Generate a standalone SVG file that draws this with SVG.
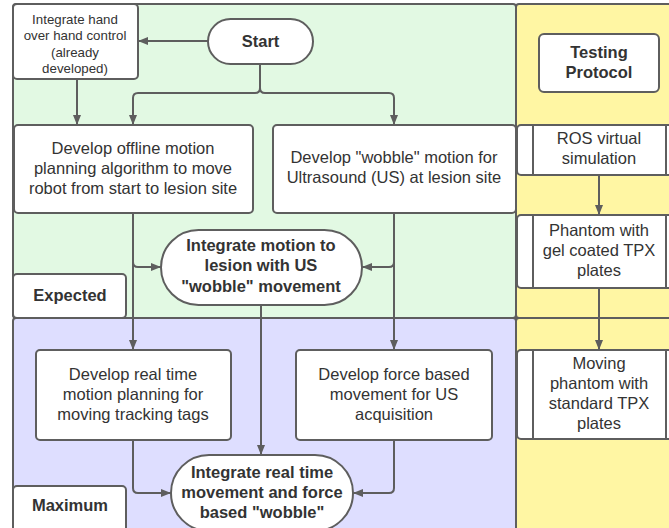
<svg xmlns="http://www.w3.org/2000/svg" width="669" height="528" viewBox="0 0 669 528">
<style>
.lane{stroke:#5e5e5e;stroke-width:2}
.box{fill:#fff;stroke:#5e5e5e;stroke-width:2}
.t{font-family:"Liberation Sans",Arial,sans-serif;font-size:16.5px;fill:#333;text-anchor:middle}
.s{font-size:13.3px}
.b{font-weight:bold}
.c{fill:none;stroke:#5e5e5e;stroke-width:2}
</style>
<defs>
<marker id="ah" viewBox="0 0 10 10" refX="10" refY="5" markerWidth="10" markerHeight="10" markerUnits="userSpaceOnUse" orient="auto">
<path d="M0,1 L10,5 L0,9 Z" fill="#5e5e5e"/>
</marker>
</defs>
<g id="lanes">
<rect class="lane" x="13" y="4" width="503" height="314" rx="3" fill="#e2f9e3"/>
<rect class="lane" x="13" y="318" width="503" height="222" rx="3" fill="#dedeff"/>
<rect class="lane" x="516" y="4" width="164" height="314" rx="3" fill="#fff6a3"/>
<rect class="lane" x="516" y="318" width="164" height="222" rx="3" fill="#fff6a3"/>
</g>
<g id="label-expected">
<rect class="box" x="13" y="274" width="113" height="44" rx="4"/>
<text class="t b" x="70" y="301">Expected</text>
</g>
<g id="label-maximum">
<rect class="box" x="13" y="486" width="113" height="54" rx="4"/>
<text class="t b" x="70" y="511">Maximum</text>
</g>
<g id="connectors">
<path class="c" d="M208,41 H138" marker-end="url(#ah)"/>
<path class="c" d="M260,64 V88 Q260,93 255,93 H138 Q133,93 133,98 V125" marker-end="url(#ah)"/>
<path class="c" d="M260,88 Q260,93 265,93 H389 Q394,93 394,98 V125" marker-end="url(#ah)"/>
<path class="c" d="M77,79 V125" marker-end="url(#ah)"/>
<path class="c" d="M133,213 V350" marker-end="url(#ah)"/>
<path class="c" d="M133,262 Q133,267 138,267 H161" marker-end="url(#ah)"/>
<path class="c" d="M394,213 V350" marker-end="url(#ah)"/>
<path class="c" d="M394,262 Q394,267 389,267 H362" marker-end="url(#ah)"/>
<path class="c" d="M261,305 V455" marker-end="url(#ah)"/>
<path class="c" d="M133,440 V488 Q133,493 138,493 H171" marker-end="url(#ah)"/>
<path class="c" d="M394,440 V488 Q394,493 389,493 H353" marker-end="url(#ah)"/>
<path class="c" d="M599,175 V215" marker-end="url(#ah)"/>
<path class="c" d="M599,288 V350" marker-end="url(#ah)"/>
</g>
<g id="handover">
<rect class="box" x="13" y="4" width="125" height="75" rx="4"/>
<text class="t s" x="75" y="24">Integrate hand</text>
<text class="t s" x="75" y="40">over hand control</text>
<text class="t s" x="75" y="57">(already</text>
<text class="t s" x="75" y="73">developed)</text>
</g>
<g id="start">
<rect class="box" x="208" y="19" width="105" height="45" rx="22.5"/>
<text class="t b" x="260.5" y="47">Start</text>
</g>
<g id="offline">
<rect class="box" x="14" y="125" width="239" height="88" rx="4"/>
<text class="t" x="133" y="154">Develop offline motion</text>
<text class="t" x="133" y="174">planning algorithm to move</text>
<text class="t" x="133" y="194">robot from start to lesion site</text>
</g>
<g id="wobble">
<rect class="box" x="273" y="125" width="243" height="88" rx="4"/>
<text class="t" x="394" y="163">Develop "wobble" motion for</text>
<text class="t" x="394" y="183">Ultrasound (US) at lesion site</text>
</g>
<g id="integrate-motion">
<rect class="box" x="161" y="230" width="201" height="75" rx="37.5"/>
<text class="t b" x="261" y="251">Integrate motion to</text>
<text class="t b" x="261" y="271">lesion with US</text>
<text class="t b" x="261" y="292">"wobble" movement</text>
</g>
<g id="realtime">
<rect class="box" x="36" y="350" width="195" height="90" rx="4"/>
<text class="t" x="133" y="380">Develop real time</text>
<text class="t" x="133" y="400">motion planning for</text>
<text class="t" x="133" y="420">moving tracking tags</text>
</g>
<g id="force">
<rect class="box" x="296" y="350" width="196" height="90" rx="4"/>
<text class="t" x="394" y="380">Develop force based</text>
<text class="t" x="394" y="400">movement for US</text>
<text class="t" x="394" y="420">acquisition</text>
</g>
<g id="integrate-realtime">
<rect class="box" x="171" y="455" width="182" height="76" rx="38"/>
<text class="t b" x="262" y="478">Integrate real time</text>
<text class="t b" x="262" y="498">movement and force</text>
<text class="t b" x="262" y="518">based "wobble"</text>
</g>
<g id="testing">
<rect class="box" x="539" y="34" width="120" height="58" rx="5"/>
<text class="t b" x="599" y="58">Testing</text>
<text class="t b" x="599" y="78">Protocol</text>
</g>
<g id="ros">
<rect class="box" x="517" y="125" width="164" height="50" rx="4"/>
<path class="c" d="M533,125 V175 M666,125 V175"/>
<text class="t" x="599" y="144">ROS virtual</text>
<text class="t" x="599" y="164">simulation</text>
</g>
<g id="phantom">
<rect class="box" x="517" y="215" width="164" height="73" rx="4"/>
<path class="c" d="M533,215 V288 M666,215 V288"/>
<text class="t" x="599" y="236">Phantom with</text>
<text class="t" x="599" y="256">gel coated TPX</text>
<text class="t" x="599" y="276">plates</text>
</g>
<g id="moving">
<rect class="box" x="517" y="350" width="164" height="89" rx="4"/>
<path class="c" d="M533,350 V439 M666,350 V439"/>
<text class="t" x="599" y="369">Moving</text>
<text class="t" x="599" y="389">phantom with</text>
<text class="t" x="599" y="409">standard TPX</text>
<text class="t" x="599" y="429">plates</text>
</g>
</svg>
